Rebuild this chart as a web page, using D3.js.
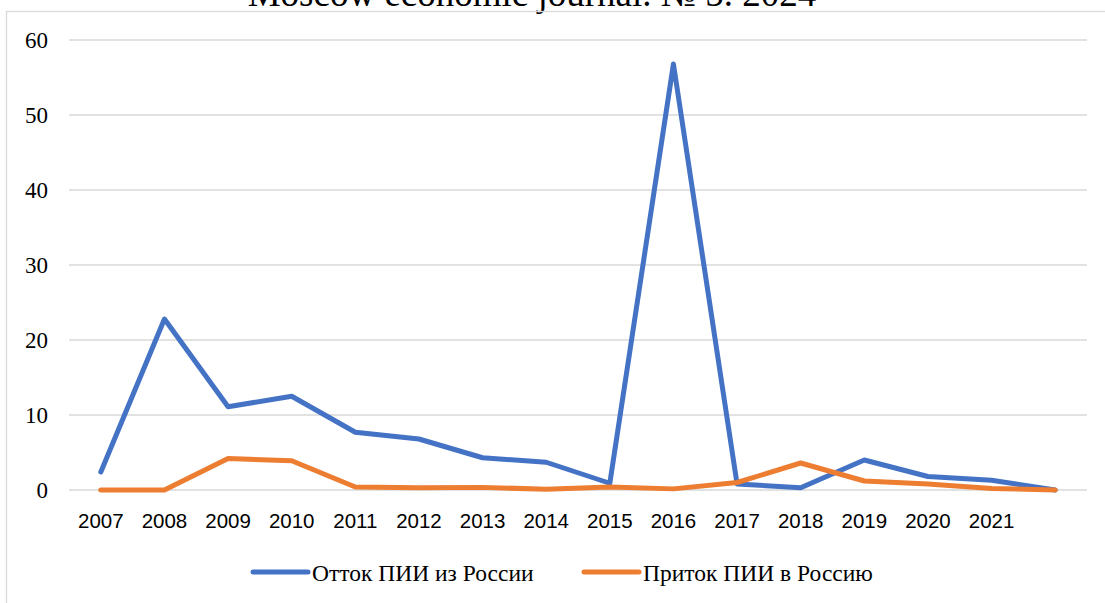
<!DOCTYPE html>
<html>
<head>
<meta charset="utf-8">
<script src="https://cdn.jsdelivr.net/npm/d3@7"></script>
<style>
  body { margin: 0; background: #fff; }
  svg { display: block; }
  .ylab { font-family: "Liberation Serif", "Times New Roman", serif; font-size: 23px; }
</style>
</head>
<body>
<div id="chart"></div>
<script>
// tick labels on the x axis (last point has no label in the original)
const yearLabels = ['2007','2008','2009','2010','2011','2012','2013','2014','2015','2016','2017','2018','2019','2020','2021','']
// values
const outflow = [2.4, 22.8, 11.1, 12.5, 7.7, 6.8, 4.3, 3.7, 0.9, 56.8, 0.8, 0.3, 4.0, 1.8, 1.3, 0]
const inflow  = [0, 0, 4.2, 3.9, 0.4, 0.3, 0.35, 0.1, 0.4, 0.15, 1.0, 3.6, 1.2, 0.8, 0.2, 0]
const yTicks = [0, 10, 20, 30, 40, 50, 60]
const seriesNames = ['Отток ПИИ из России', 'Приток ПИИ в Россию']
const seriesColors = ['#4472C4', '#ED7D31']

const W = 1105, H = 603
const m = {left: 69, right: 1087, top: 40, bottom: 490}
const serif = '"Liberation Serif", "Times New Roman", serif'

const svg = d3.select('#chart').append('svg').attr('width', W).attr('height', H)

// title, mostly cut off at the top like the scan
svg.append('text')
  .attr('x', 532).attr('y', 6)
  .attr('text-anchor', 'middle')
  .style('font-family', serif)
  .style('font-size', '37px')
  .text('Moscow economic journal. № 5. 2024')

// chart frame (only top + left show)
svg.append('rect')
  .attr('x', 6.5).attr('y', 11.5).attr('width', 1200).attr('height', 700)
  .attr('fill', 'none').attr('stroke', '#d9d9d9').attr('stroke-width', 1.3)

const x = d3.scaleBand().domain(d3.range(yearLabels.length)).range([m.left, m.right])
const y = d3.scaleLinear().domain([0, 60]).range([m.bottom, m.top])

// gridlines
svg.append('g').selectAll('line').data(yTicks).enter().append('line')
  .attr('x1', m.left).attr('x2', m.right)
  .attr('y1', d => y(d)).attr('y2', d => y(d))
  .attr('stroke', '#d9d9d9').attr('stroke-width', 1.5)

// y labels (serif, like the source)
svg.append('g').selectAll('text').data(yTicks).enter().append('text')
  .attr('class', 'ylab')
  .attr('x', m.left - 21).attr('y', d => y(d) + 8)
  .attr('text-anchor', 'end')
  .attr('fill', '#000')
  .text(d => d)

// x axis labels
const xAxis = svg.append('g').attr('transform', `translate(0,${m.bottom})`)
  .call(d3.axisBottom(x).tickFormat(i => yearLabels[i]).tickSize(0).tickPadding(23))
xAxis.select('.domain').remove()
xAxis.selectAll('text')
  .style('font-family', '"Liberation Sans", Arial, sans-serif')
  .style('font-size', '20.5px').attr('fill', '#000')

const line = d3.line()
  .x((d, i) => x(i) + x.bandwidth() / 2)
  .y(d => y(d))

;[outflow, inflow].forEach(function(s, k) {
  svg.append('path').datum(s)
    .attr('d', line)
    .attr('fill', 'none')
    .attr('stroke', seriesColors[k])
    .attr('stroke-width', 5)
    .attr('stroke-linejoin', 'round')
    .attr('stroke-linecap', 'round')
})

// legend
const legX = [253, 584]
const leg = svg.append('g').selectAll('g').data(seriesNames).enter().append('g')
  .attr('transform', (d, i) => `translate(${legX[i]},572)`)
leg.append('line')
  .attr('x1', 0).attr('x2', 55).attr('y1', 0).attr('y2', 0)
  .attr('stroke', (d, i) => seriesColors[i]).attr('stroke-width', 5)
  .attr('stroke-linecap', 'round')
leg.append('text')
  .attr('x', 59).attr('y', 9)
  .style('font-family', serif)
  .style('font-size', '23.5px').attr('fill', '#000')
  .text(d => d)
</script>
</body>
</html>
